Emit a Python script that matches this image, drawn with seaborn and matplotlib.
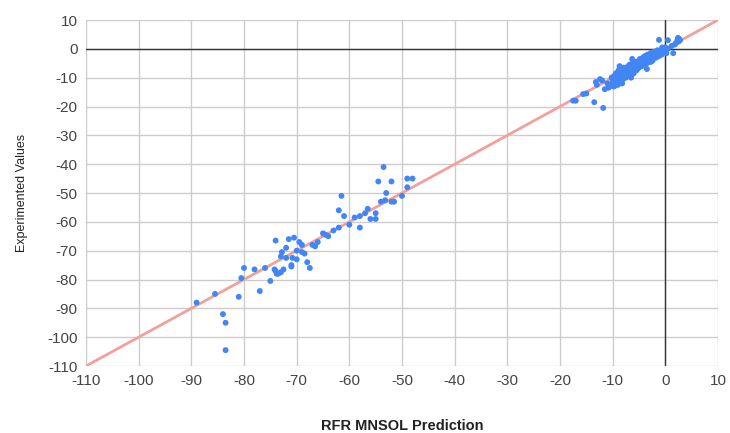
import matplotlib
matplotlib.use("Agg")
import matplotlib.pyplot as plt
import seaborn as sns
import pandas as pd

# Predicted (x) and experimental (y) values
pred_left = [-89, -85.5, -84, -83.5, -83.5, -81, -80.5, -80, -78, -77, -76, -75,
             -74, -74, -73.5, -74.2, -73, -73, -72, -72, -71.5, -71, -70.5, -70, -70,
             -69, -69, -68.5, -68, -67.5, -67, -66, -65, -64, -63, -62, -62, -61.5,
             -61, -60, -58, -58, -57, -56, -55, -55, -54.5, -54, -53.5, -53, -52,
             -52, -51.5, -50, -49, -49, -48, -71, -72.5, -73.8, -72.8, -70.8, -69.5,
             -66.5, -64.5, -59, -56.5, -53.2]
exp_left = [-88, -85, -92, -95, -104.5, -86, -79.5, -76, -76.5, -84, -76, -80.5,
            -66.5, -77, -78, -76.5, -77.5, -72, -72.5, -69, -66, -75, -65.5, -70, -73,
            -68, -70.5, -71, -74, -76, -68, -67, -64, -65, -63, -62, -56, -51,
            -58, -61, -62, -58, -57, -59, -59, -57, -46, -53, -41, -50, -53,
            -46, -53, -51, -48, -45, -45, -75.5, -76.5, -78, -70.5, -72.5, -67,
            -68.5, -64.5, -58.5, -55.5, -52.5]

pred_right = [-17.5, -17, -15.6, -15, -13.5, -13.2, -13, -11.8, -12, -11, -10.5,
              -10.2, -10, -10, -9.8, -9.6, -9.5, -9.4, -9.2, -9, -9, -8.9, -8.8,
              -8.6, -8.5, -8.4, -8.2, -8, -8, -7.9, -7.8, -7.6, -7.5, -7.4, -7.2,
              -7, -7, -6.9, -6.8, -6.6, -6.5, -6.4, -6.2, -6, -6, -5.9, -5.8,
              -5.6, -5.5, -5.4, -5.2, -5, -5, -4.9, -4.8, -4.6, -4.5, -4.4, -4.2,
              -4, -4, -3.9, -3.8, -3.6, -3.5, -3.5, -3.4, -3.2, -3, -3, -2.9, -2.8,
              -2.6, -2.5, -2.4, -2.2, -2, -2, -1.9, -1.8, -1.6, -1.5, -1.4, -1.2,
              -1, -1, -0.8, -0.6, -0.5, -0.3, -0.2, 0, 0, 0.2, 0.5, 1.5, 1.2,
              1.8, 2, 2.3, 2.5, 2.6, 2.8, -1.2, 0.5, 2.4, -3.5, -6.5, -8.2, -9.7,
              -10.8, -11.5, -12.4, -7.3, -5.3, -4.3, -2.7, -1.7, -0.7, -6.3, -8.7]
exp_right = [-18, -18, -15.7, -15.5, -18.5, -11.5, -12.5, -20.5, -11, -12, -12.5,
             -10, -11.5, -13, -9.5, -12, -10.5, -8.5, -11, -9, -12.5, -7.5, -10,
             -8.5, -11.5, -7, -9.5, -8, -10.5, -6.5, -9, -7.5, -10, -6.5, -8.5,
             -6, -9.5, -7.5, -5.5, -8, -6.5, -9, -5, -7, -8.5, -5.5, -6.5,
             -4.5, -7.5, -5.5, -6, -4, -6.5, -5, -3.5, -5.5, -4.5, -6, -3,
             -4, -5.5, -2.5, -4.5, -3, -5, -3.5, -2, -4, -2.5, -4.5, -3, -1.5,
             -3.5, -2, -4, -1, -2.5, -1.5, -3, -1, -2, -0.5, -1.5, -2.5,
             -1, -0.5, -1.5, 0.5, -1, 0, -0.5, -1, 0.5, -1.5, 0, -1.5, 1,
             1.5, 2, 3, 2.5, 3.5, 3, 3.1, 3, 3.8, -7, -10, -12, -13,
             -13.5, -14, -10.5, -8, -7, -5.5, -4.5, -3, -2, -3.5, -6]

trend_x = [-110, 10]
trend_y = [-110, 10]

x_ticks = list(range(-110, 11, 10))
y_ticks = list(range(-110, 11, 10))

df = pd.DataFrame({"pred": pred_left + pred_right, "exp": exp_left + exp_right})
trend = pd.DataFrame({"x": trend_x, "y": trend_y})

sns.set_style("white")
plt.rcParams['font.family'] = ['Liberation Sans', 'DejaVu Sans']
plt.rcParams['axes.unicode_minus'] = False

fig = plt.figure(figsize=(7.3, 4.33), dpi=100)
ax = fig.add_axes([86/730, 1-366/433, (718-86)/730, (366-20)/433])

for v in x_ticks:
    ax.axvline(v, color="#cccccc", lw=1, zorder=0)
for v in y_ticks:
    ax.axhline(v, color="#cccccc", lw=1, zorder=0)
ax.axvline(0, color="#333333", lw=1, zorder=1)
ax.axhline(0, color="#333333", lw=1, zorder=1)

sns.lineplot(data=trend, x="x", y="y", ax=ax, color="#F4A09A", lw=2, zorder=2)
sns.scatterplot(data=df, x="pred", y="exp", ax=ax, color="#4285F4", s=18,
                edgecolor="none", zorder=3)

ax.set_xlim(-110, 10)
ax.set_ylim(-110, 10)
ax.set_xticks(x_ticks)
ax.set_yticks(y_ticks)
ax.tick_params(axis="both", labelsize=11, labelcolor="#444444", length=0, pad=6)
for s in ax.spines.values():
    s.set_visible(False)

ax.set_xlabel("RFR MNSOL Prediction", fontsize=10.5, fontweight="bold",
              color="#222222", labelpad=22)
ax.set_ylabel("Experimented Values", fontsize=9, color="#222222", labelpad=14)

fig.savefig("out.png", dpi=100)
